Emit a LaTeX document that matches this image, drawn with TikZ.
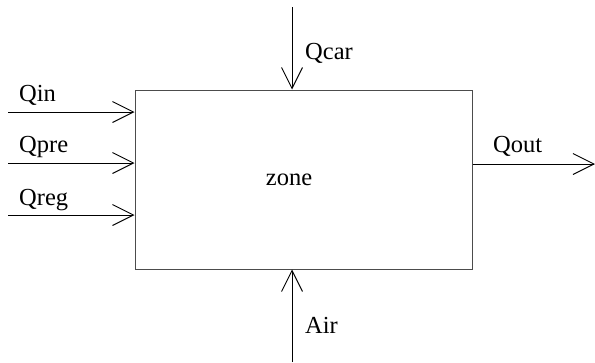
\documentclass[tikz,border=0pt]{standalone}
\usepackage{fontspec}
\setmainfont{Liberation Serif}
\usetikzlibrary{arrows.meta}
\begin{document}
\begin{tikzpicture}[x=1pt,y=-1pt,
  flow/.style={draw=black, line width=0.9pt, -{Straight Barb[length=21pt,width=21pt,line width=0.9pt]}},
  lbl/.style={anchor=west, inner sep=0pt, font=\fontsize{24.5}{28}\selectfont},
  zonebox/.style={draw=black!70, line width=1pt, minimum width=337pt, minimum height=179pt, inner sep=0pt}]
\useasboundingbox (0,0) rectangle (595,362);
\node[zonebox] (zone) at (303.5,179.5) {};
\node[inner sep=0pt, font=\fontsize{24.5}{28}\selectfont] (zt) at (289,180) {zone};
\coordinate (inA) at (8,112);
\coordinate (inB) at (8,163);
\coordinate (inC) at (8,215);
\coordinate (car) at (292,7);
\coordinate (air) at (292,362);
\coordinate (out) at (595,164);
\draw[flow] (inA) -- (inA -| zone.west);
\draw[flow] (inB) -- (inB -| zone.west);
\draw[flow] (inC) -- (inC -| zone.west);
\draw[flow] (car) -- (car |- zone.north);
\draw[flow] (air) -- (air |- zone.south);
\draw[flow] (out -| zone.east) -- (out);
\node[lbl] (lin) at (19,95) {Qin};
\node[lbl] (lpre) at (19,147) {Qpre};
\node[lbl] (lreg) at (19,200) {Qreg};
\node[lbl] (lcar) at (305,53) {Qcar};
\node[lbl] (lair) at (305,325) {Air};
\node[lbl] (lout) at (493,146) {Qout};
\end{tikzpicture}
\end{document}
